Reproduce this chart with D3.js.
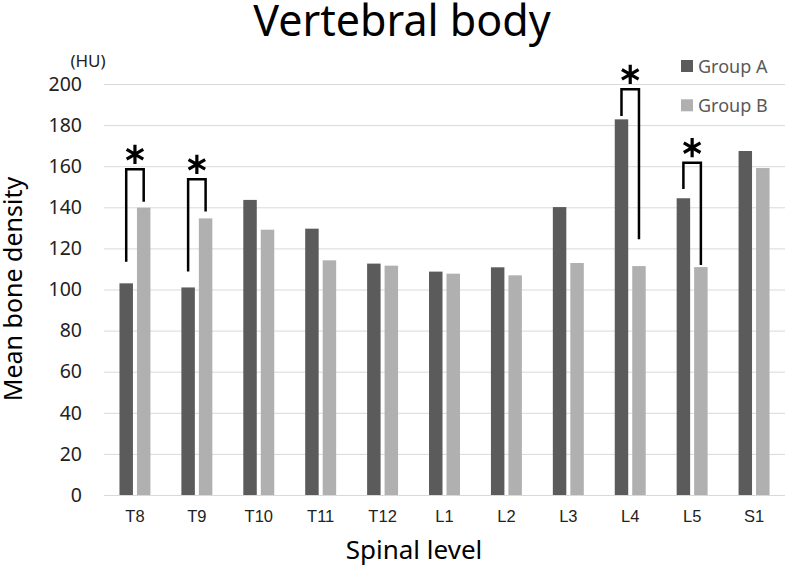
<!DOCTYPE html>
<html>
<head>
<meta charset="utf-8">
<script src="https://cdn.jsdelivr.net/npm/d3@7"></script>
<style>
  html, body { margin: 0; padding: 0; background: #fff; }
  svg { display: block; }
</style>
</head>
<body>
<svg id="chart" width="787" height="569"></svg>
<script>
// ---- data ----
const categories = ["T8", "T9", "T10", "T11", "T12", "L1", "L2", "L3", "L4", "L5", "S1"];
const seriesNames = ["Group A", "Group B"];
const groupA = [103, 101, 143.6, 129.6, 112.6, 108.7, 110.8, 140.1, 182.8, 144.4, 167.4];
const groupB = [139.8, 134.6, 129.1, 114.2, 111.6, 107.7, 106.9, 112.9, 111.4, 110.9, 159.1];
const yTicks = [0, 20, 40, 60, 80, 100, 120, 140, 160, 180, 200];
// significance brackets: category, bracket top, left end, right end (HU)
const bracketCats = ["T8", "T9", "L4", "L5"];
const bracketTop = [158.5, 153.6, 197.4, 161.7];
const bracketLeftEnd = [113.5, 108.7, 184.4, 148.9];
const bracketRightEnd = [142.7, 137.9, 124.4, 111.9];

const colors = {"Group A": "#5b5b5b", "Group B": "#b0b0b0"};

const svg = d3.select("#chart");
const mLeft = 104, mRight = 785, mTop = 84, mBottom = 495;

const x0 = d3.scaleBand().domain(categories).range([mLeft, mRight])
  .paddingInner(0.5).paddingOuter(0.25);
const x1 = d3.scaleBand().domain(seriesNames).range([0, x0.bandwidth()])
  .paddingInner(0.229).paddingOuter(0);
const y = d3.scaleLinear().domain([0, 200]).range([mBottom, mTop]);

// gridlines
svg.append("g").selectAll("line").data(yTicks).join("line")
  .attr("x1", mLeft).attr("x2", mRight)
  .attr("y1", d => y(d) + 0.5).attr("y2", d => y(d) + 0.5)
  .attr("stroke", "#d9d9d9").attr("stroke-width", 1);

// y axis labels
const yAxis = d3.axisLeft(y).tickValues(yTicks).tickSize(0).tickPadding(0);
const gy = svg.append("g").attr("transform", `translate(${mLeft - 22},0)`).call(yAxis);
gy.select(".domain").remove();
gy.selectAll("text").attr("font-family", "'Noto Sans', sans-serif")
  .attr("font-size", 19.5).attr("fill", "#222");

// bars
const rows = categories.map((c, i) => ({cat: c, vals: [
  {s: "Group A", v: groupA[i]}, {s: "Group B", v: groupB[i]}]}));
const g = svg.append("g").selectAll("g").data(rows).join("g")
  .attr("transform", d => `translate(${x0(d.cat)},0)`);
g.selectAll("rect").data(d => d.vals).join("rect")
  .attr("x", d => x1(d.s)).attr("width", x1.bandwidth())
  .attr("y", d => y(d.v)).attr("height", d => y(0) - y(d.v))
  .attr("fill", d => colors[d.s]);

// x axis
const xAxis = d3.axisBottom(x0).tickSize(0).tickPadding(0);
const gx = svg.append("g").attr("transform", `translate(0,${mBottom})`).call(xAxis);
gx.select(".domain").attr("stroke", "#d9d9d9").attr("d", `M${mLeft},0.5H${mRight}`);
gx.selectAll("text").attr("font-family", "'Liberation Sans Narrow', 'Liberation Sans', sans-serif")
  .attr("font-size", 16.5).attr("fill", "#222").attr("dy", null).attr("y", 27);

// brackets
const bData = bracketCats.map((c, i) => ({cat: c, top: bracketTop[i], l: bracketLeftEnd[i], r: bracketRightEnd[i]}));
const bg = svg.append("g");
bData.forEach(d => {
  const xl = x0(d.cat) + x1("Group A") + x1.bandwidth() / 2;
  const xr = x0(d.cat) + x1("Group B") + x1.bandwidth() / 2;
  const p = d3.path();
  p.moveTo(xl, y(d.l)); p.lineTo(xl, y(d.top)); p.lineTo(xr, y(d.top)); p.lineTo(xr, y(d.r));
  bg.append("path").attr("d", p.toString()).attr("fill", "none")
    .attr("stroke", "#000").attr("stroke-width", 2.5);
  bg.append("path").attr("d", d3.symbol(d3.symbolAsterisk, 260)())
    .attr("transform", `translate(${(xl + xr) / 2},${y(d.top) - 15})`)
    .attr("fill", "none").attr("stroke", "#000").attr("stroke-width", 3.2);
});

// title
svg.append("text").attr("x", 402).attr("y", 36).attr("text-anchor", "middle")
  .attr("font-family", "'Noto Sans', sans-serif").attr("font-size", 43)
  .attr("fill", "#000").text("Vertebral body");

// unit
svg.append("text").attr("x", 88).attr("y", 67).attr("text-anchor", "middle")
  .attr("font-family", "'Noto Sans', sans-serif").attr("font-size", 17)
  .attr("fill", "#222").text("(HU)");

// axis titles
svg.append("text").attr("transform", "translate(22,289) rotate(-90)")
  .attr("text-anchor", "middle").attr("font-family", "'Noto Sans', sans-serif")
  .attr("font-size", 25).attr("fill", "#000").text("Mean bone density");
svg.append("text").attr("x", 414).attr("y", 559).attr("text-anchor", "middle")
  .attr("font-family", "'Noto Sans', sans-serif").attr("font-size", 26)
  .attr("fill", "#000").text("Spinal level");

// legend
const lg = svg.append("g").selectAll("g").data(seriesNames).join("g")
  .attr("transform", (d, i) => `translate(681,${60 + i * 39.3})`);
lg.append("rect").attr("width", 12).attr("height", 12).attr("fill", d => colors[d]);
lg.append("text").attr("x", 17).attr("y", 12.5).attr("font-family", "'Noto Sans', sans-serif")
  .attr("font-size", 18).attr("fill", "#595959").text(d => d);
</script>
</body>
</html>
